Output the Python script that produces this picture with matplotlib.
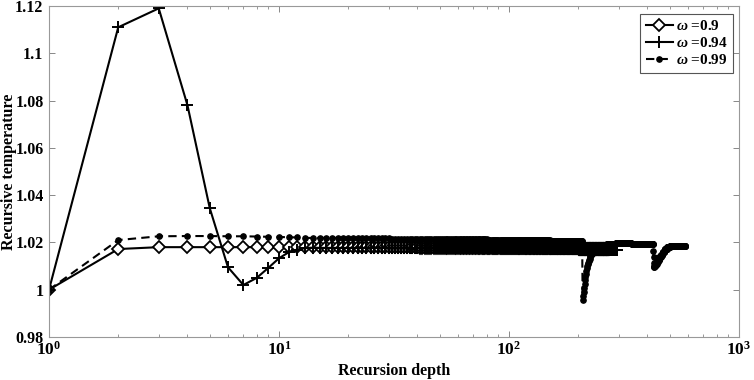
import numpy as np
import matplotlib
matplotlib.use("Agg")
import matplotlib.pyplot as plt
from matplotlib.ticker import FixedLocator, FixedFormatter, LogLocator, NullFormatter

plt.rcParams['font.family'] = ['Liberation Serif', 'DejaVu Serif']
plt.rcParams['font.weight'] = 'bold'
plt.rcParams['mathtext.fontset'] = 'custom'
plt.rcParams['mathtext.rm'] = 'Liberation Serif:bold'
plt.rcParams['mathtext.it'] = 'Liberation Serif:italic'
plt.rcParams['mathtext.bf'] = 'Liberation Serif:bold'

# ---------------- data ----------------
labels = [r'$\omega$ =0.9', r'$\omega$ =0.94', r'$\omega$ =0.99']

# explicit first values (depth 1, 2, 3, ...)
head_090 = [1.0, 1.0172, 1.018, 1.018, 1.018, 1.018, 1.018, 1.018, 1.018, 1.018, 1.018]
# (value, last depth) plateau runs afterwards
runs_090 = [(1.0180, 40), (1.0178, 100), (1.0175, 200), (1.0172, 272)]

head_094 = [1.0, 1.111, 1.119, 1.078, 1.0345, 1.0095, 1.002, 1.0050, 1.0093,
            1.0133, 1.0158, 1.0170, 1.0176, 1.0178]
runs_094 = [(1.0177, 60), (1.0175, 150), (1.0172, 250), (1.0167, 295)]

head_099 = [1.0, 1.021, 1.0226, 1.0227, 1.0227, 1.0226, 1.0226, 1.0225, 1.0224,
            1.0223, 1.0222, 1.0221]
runs_099_a = [(1.0219, 30), (1.0215, 80), (1.0211, 150), (1.0206, 208)]
# sudden drop at depth 209 and recovery (depths 209..240)
dip1_099 = [0.9955, 0.9972, 0.9990, 1.0008, 1.0025, 1.0040, 1.0055, 1.0068,
            1.0080, 1.0091, 1.0100, 1.0108, 1.0115, 1.0121, 1.0127, 1.0132,
            1.0137, 1.0141, 1.0145, 1.0149, 1.0152, 1.0155, 1.0158, 1.0160,
            1.0162, 1.0164, 1.0166, 1.0168, 1.0169, 1.0170, 1.0171, 1.0172]
runs_099_b = [(1.0176, 250), (1.0185, 265), (1.0192, 290), (1.0197, 340),
              (1.0195, 400), (1.0192, 423),
              (1.0165, 424), (1.0138, 425), (1.0115, 426), (1.0100, 427),
              (1.0096, 429),
              (1.0099, 431), (1.0103, 434), (1.0110, 438), (1.0118, 443),
              (1.0127, 449), (1.0137, 456), (1.0148, 464), (1.0160, 474),
              (1.0172, 486), (1.0182, 500), (1.0187, 585)]


def build(head, *parts):
    vals = list(head)
    for part in parts:
        if part and isinstance(part[0], tuple):
            for v, last in part:
                vals.extend([v] * (last - len(vals)))
        else:
            vals.extend(part)
    return np.arange(1, len(vals) + 1), np.array(vals)


d090, v090 = build(head_090, runs_090)
d094, v094 = build(head_094, runs_094)
d099, v099 = build(head_099, runs_099_a, dip1_099, runs_099_b)

yticks = [0.98, 1.0, 1.02, 1.04, 1.06, 1.08, 1.10, 1.12]
ytick_labels = ['0.98', '1', '1.02', '1.04', '1.06', '1.08', '1.1', '1.12']

# ---------------- figure ----------------
fig = plt.figure(figsize=(7.54, 3.80), dpi=100)
ax = fig.add_axes([49 / 754, 1 - 337 / 380, 690 / 754, 331 / 380])

ax.plot(d090, v090, color='black', lw=1.5, marker='D', markersize=6.5,
        markerfacecolor='white', markeredgecolor='black', markeredgewidth=1.3,
        label=labels[0])
ax.plot(d094, v094, color='black', lw=1.5, marker='+', markersize=9,
        markeredgewidth=1.4, label=labels[1])
ax.plot(d099, v099, color='black', lw=1.5, linestyle=(0, (4, 2.5)), marker='o',
        markersize=3.8, markerfacecolor='black', markeredgecolor='black',
        label=labels[2])

ax.set_xscale('log')
ax.set_xlim(1, 1000)
ax.set_ylim(0.98, 1.12)
ax.yaxis.set_major_locator(FixedLocator(yticks))
ax.yaxis.set_major_formatter(FixedFormatter(ytick_labels))
ax.xaxis.set_major_locator(LogLocator(base=10, numticks=10))
ax.xaxis.set_minor_locator(LogLocator(base=10, subs=np.arange(2, 10), numticks=10))
ax.xaxis.set_minor_formatter(NullFormatter())

ax.tick_params(which='both', direction='in', top=True, right=True,
               colors='#222222', labelcolor='black', labelsize=11.5)
ax.tick_params(which='major', length=4, width=0.7, color='#888888')
ax.tick_params(which='minor', length=2.5, width=0.6, color='#888888')
ax.tick_params(axis='x', pad=3, labelsize=12.5)
ax.tick_params(axis='y', pad=4)
for lbl in ax.get_xticklabels() + ax.get_yticklabels():
    lbl.set_fontweight('bold')
for s in ax.spines.values():
    s.set_color('#999999')
    s.set_linewidth(0.8)

ax.set_xlabel('Recursion depth', fontsize=11.5, fontweight='bold')
ax.set_ylabel('Recursive temperature', fontsize=11.5, fontweight='bold')
ax.xaxis.set_label_coords(0.5, -0.078)
ax.yaxis.set_label_coords(-0.046, 0.5)

leg = ax.legend(loc='upper right', bbox_to_anchor=(0.992, 0.976), borderaxespad=0,
                fancybox=False, framealpha=1, edgecolor='#555555',
                prop={'family': 'Liberation Serif', 'weight': 'bold', 'size': 11},
                handlelength=1.8, handletextpad=0.2, labelspacing=0.2,
                borderpad=0.35, numpoints=1)
leg.get_frame().set_linewidth(0.8)

fig.savefig('out.png', dpi=100)
